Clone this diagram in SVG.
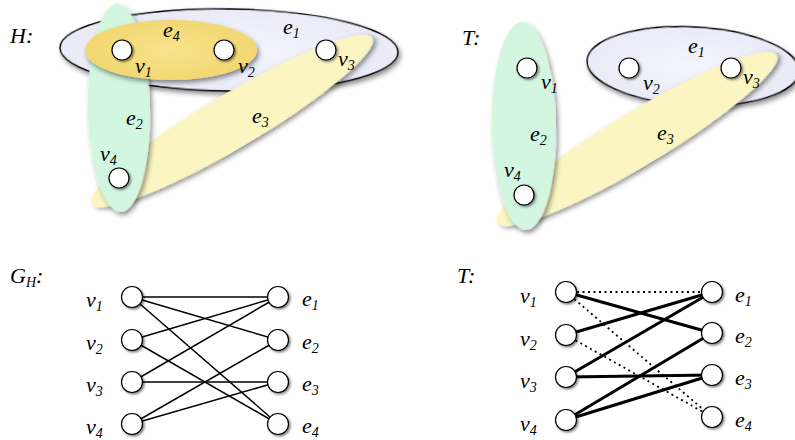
<svg xmlns="http://www.w3.org/2000/svg" width="795" height="440" viewBox="0 0 795 440">
<defs>
<style>
text{font-family:"Liberation Serif","DejaVu Serif",serif;font-style:italic;font-size:22px;fill:#000}
.sub{font-size:14px}
.v{fill:#fff;stroke:#000;stroke-width:1.2;filter:url(#csh)}
.e1{fill:url(#gE1);stroke:#000;stroke-width:1.4;filter:url(#sh)}
.e2{fill:#d2f6df;filter:url(#sh)}
.e3{fill:#faf5c1;filter:url(#sh)}
.e4{fill:url(#gE4);filter:url(#sh)}
.ln{stroke:#000;stroke-width:1.5;fill:none}
.tk{stroke:#000;stroke-width:3;fill:none}
.dt{stroke:#000;stroke-width:1.8;stroke-dasharray:2 3.5;fill:none}
</style>
<filter id="sh" x="-20%" y="-20%" width="145%" height="150%">
<feDropShadow dx="2" dy="3" stdDeviation="2.5" flood-color="#000" flood-opacity="0.45"/>
</filter>
<filter id="csh" x="-50%" y="-50%" width="200%" height="200%">
<feDropShadow dx="1.5" dy="1.5" stdDeviation="1.2" flood-color="#000" flood-opacity="0.5"/>
</filter>
<radialGradient id="gE1" cx="0.5" cy="0.5" r="0.6">
<stop offset="0" stop-color="#f5f5fd"/>
<stop offset="1" stop-color="#e8e8f7"/>
</radialGradient>
<radialGradient id="gE4" cx="0.5" cy="0.5" r="0.6">
<stop offset="0" stop-color="#f8e38c"/>
<stop offset="1" stop-color="#f1d56c"/>
</radialGradient>
</defs>
<rect width="795" height="440" fill="#fff"/>

<!-- Hypergraph H -->
<g id="H">
<text x="10" y="43">H:</text>
<g id="H-e1"><ellipse class="e1" cx="229" cy="50" rx="169" ry="41" transform="rotate(0.8 229 50)"/></g>
<g id="H-e3"><ellipse class="e3" cx="232" cy="121" rx="163" ry="27" transform="rotate(-30.6 232 121)"/></g>
<g id="H-e2"><ellipse class="e2" cx="119" cy="108" rx="31" ry="104" transform="rotate(-1 119 108)"/></g>
<g id="H-e4"><ellipse class="e4" cx="171" cy="50" rx="86" ry="30"/></g>
<g id="H-v1"><circle class="v" cx="122" cy="50" r="10"/></g>
<g id="H-v2"><circle class="v" cx="224" cy="50" r="10"/></g>
<g id="H-v3"><circle class="v" cx="326" cy="50" r="10"/></g>
<g id="H-v4"><circle class="v" cx="119" cy="178" r="10"/></g>
<text x="163" y="37">e<tspan class="sub" dy="4">4</tspan></text>
<text x="283" y="34">e<tspan class="sub" dy="4">1</tspan></text>
<text x="135" y="73">v<tspan class="sub" dy="4">1</tspan></text>
<text x="238" y="73">v<tspan class="sub" dy="4">2</tspan></text>
<text x="338" y="66">v<tspan class="sub" dy="4">3</tspan></text>
<text x="126" y="125">e<tspan class="sub" dy="4">2</tspan></text>
<text x="252" y="123">e<tspan class="sub" dy="4">3</tspan></text>
<text x="100" y="161">v<tspan class="sub" dy="4">4</tspan></text>
</g>

<!-- Hypergraph T -->
<g id="T">
<text x="462" y="45">T:</text>
<g id="T-e1"><ellipse class="e1" cx="693" cy="66" rx="106" ry="39" transform="rotate(3 693 66)"/></g>
<g id="T-e3"><ellipse class="e3" cx="637" cy="139" rx="163" ry="27" transform="rotate(-31 637 139)"/></g>
<g id="T-e2"><ellipse class="e2" cx="524" cy="126" rx="32" ry="104" transform="rotate(-1 524 126)"/></g>
<g id="T-v1"><circle class="v" cx="527" cy="68" r="10"/></g>
<g id="T-v2"><circle class="v" cx="629" cy="68" r="10"/></g>
<g id="T-v3"><circle class="v" cx="731" cy="68" r="10"/></g>
<g id="T-v4"><circle class="v" cx="524" cy="195" r="10"/></g>
<text x="688" y="53">e<tspan class="sub" dy="4">1</tspan></text>
<text x="541" y="89">v<tspan class="sub" dy="4">1</tspan></text>
<text x="643" y="90">v<tspan class="sub" dy="4">2</tspan></text>
<text x="743" y="84">v<tspan class="sub" dy="4">3</tspan></text>
<text x="530" y="141">e<tspan class="sub" dy="4">2</tspan></text>
<text x="657" y="140">e<tspan class="sub" dy="4">3</tspan></text>
<text x="504" y="177">v<tspan class="sub" dy="4">4</tspan></text>
</g>

<!-- Bipartite G_H -->
<text x="10" y="283">G<tspan class="sub" dy="4">H</tspan><tspan dy="-4">:</tspan></text>
<g id="GH-connectors">
<line class="ln" x1="132" y1="297" x2="278" y2="297"/>
<line class="ln" x1="132" y1="297" x2="278" y2="340"/>
<line class="ln" x1="132" y1="297" x2="278" y2="424"/>
<line class="ln" x1="132" y1="340" x2="278" y2="297"/>
<line class="ln" x1="132" y1="340" x2="278" y2="424"/>
<line class="ln" x1="132" y1="382" x2="278" y2="297"/>
<line class="ln" x1="132" y1="382" x2="278" y2="382"/>
<line class="ln" x1="132" y1="424" x2="278" y2="340"/>
<line class="ln" x1="132" y1="424" x2="278" y2="382"/>
</g>
<g id="GH-v1"><circle class="v" cx="132" cy="297" r="10.5"/><text x="86" y="307">v<tspan class="sub" dy="4">1</tspan></text></g>
<g id="GH-v2"><circle class="v" cx="132" cy="340" r="10.5"/><text x="86" y="350">v<tspan class="sub" dy="4">2</tspan></text></g>
<g id="GH-v3"><circle class="v" cx="132" cy="382" r="10.5"/><text x="86" y="392">v<tspan class="sub" dy="4">3</tspan></text></g>
<g id="GH-v4"><circle class="v" cx="132" cy="424" r="10.5"/><text x="86" y="434">v<tspan class="sub" dy="4">4</tspan></text></g>
<g id="GH-e1"><circle class="v" cx="278" cy="297" r="10.5"/><text x="302" y="306">e<tspan class="sub" dy="4">1</tspan></text></g>
<g id="GH-e2"><circle class="v" cx="278" cy="340" r="10.5"/><text x="302" y="349">e<tspan class="sub" dy="4">2</tspan></text></g>
<g id="GH-e3"><circle class="v" cx="278" cy="382" r="10.5"/><text x="302" y="391">e<tspan class="sub" dy="4">3</tspan></text></g>
<g id="GH-e4"><circle class="v" cx="278" cy="424" r="10.5"/><text x="302" y="433">e<tspan class="sub" dy="4">4</tspan></text></g>

<!-- Bipartite T -->
<text x="457" y="283">T:</text>
<g id="BT-connectors">
<line class="dt" x1="566" y1="292" x2="712" y2="292"/>
<line class="dt" x1="566" y1="292" x2="712" y2="417"/>
<line class="dt" x1="566" y1="335" x2="712" y2="417"/>
<line class="tk" x1="566" y1="292" x2="712" y2="333"/>
<line class="tk" x1="566" y1="335" x2="712" y2="292"/>
<line class="tk" x1="566" y1="377" x2="712" y2="292"/>
<line class="tk" x1="566" y1="377" x2="712" y2="375"/>
<line class="tk" x1="566" y1="420" x2="712" y2="333"/>
<line class="tk" x1="566" y1="420" x2="712" y2="375"/>
</g>
<g id="BT-v1"><circle class="v" cx="566" cy="292" r="10.5"/><text x="520" y="303">v<tspan class="sub" dy="4">1</tspan></text></g>
<g id="BT-v2"><circle class="v" cx="566" cy="335" r="10.5"/><text x="520" y="346">v<tspan class="sub" dy="4">2</tspan></text></g>
<g id="BT-v3"><circle class="v" cx="566" cy="377" r="10.5"/><text x="520" y="388">v<tspan class="sub" dy="4">3</tspan></text></g>
<g id="BT-v4"><circle class="v" cx="566" cy="420" r="10.5"/><text x="520" y="431">v<tspan class="sub" dy="4">4</tspan></text></g>
<g id="BT-e1"><circle class="v" cx="712" cy="292" r="10.5"/><text x="735" y="302">e<tspan class="sub" dy="4">1</tspan></text></g>
<g id="BT-e2"><circle class="v" cx="712" cy="333" r="10.5"/><text x="735" y="343">e<tspan class="sub" dy="4">2</tspan></text></g>
<g id="BT-e3"><circle class="v" cx="712" cy="375" r="10.5"/><text x="735" y="385">e<tspan class="sub" dy="4">3</tspan></text></g>
<g id="BT-e4"><circle class="v" cx="712" cy="417" r="10.5"/><text x="735" y="427">e<tspan class="sub" dy="4">4</tspan></text></g>
</svg>
